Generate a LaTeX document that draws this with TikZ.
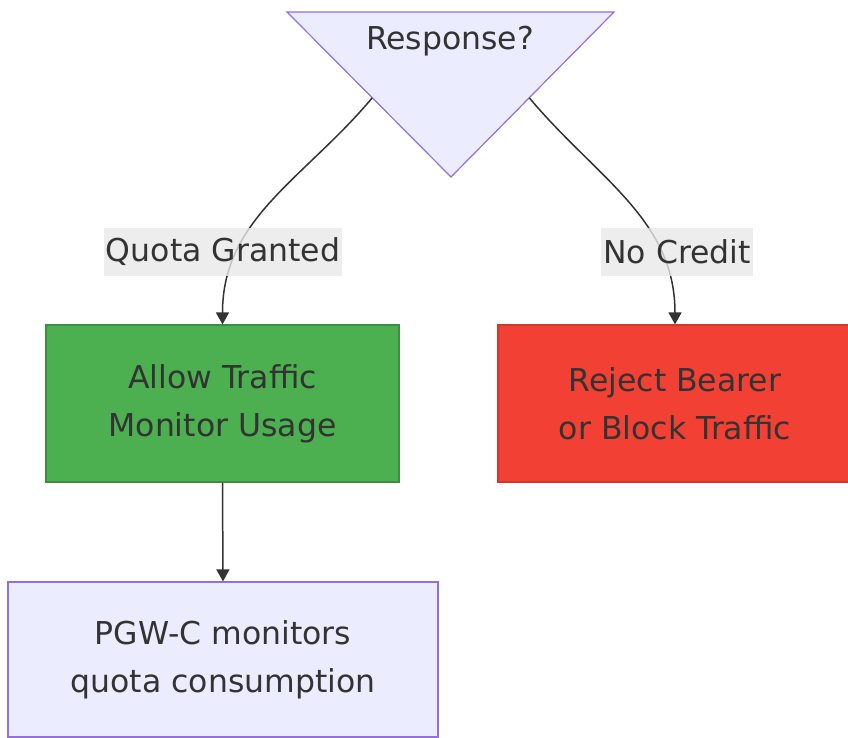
\documentclass[tikz,border=0pt]{standalone}
\usepackage{fontspec}
\setmainfont{DejaVu Sans}
\usetikzlibrary{arrows.meta,positioning,calc}

\definecolor{lav}{HTML}{ECECFF}
\definecolor{lavline}{HTML}{9370DB}
\definecolor{grn}{HTML}{4CAF50}
\definecolor{grnline}{HTML}{3E8E41}
\definecolor{rd}{HTML}{F24134}
\definecolor{rdline}{HTML}{D8352A}
\definecolor{ink}{HTML}{333333}
\definecolor{labbg}{HTML}{E8E8E8}

\begin{document}
\begin{tikzpicture}[
  x=1pt, y=1pt,
  font=\fontsize{31.5}{48}\selectfont,
  box/.style={draw, line width=1.2pt, align=center, text=ink, inner sep=0pt},
  lab/.style={fill=labbg, fill opacity=0.8, text opacity=1, text=ink, inner xsep=2pt,
    minimum height=48pt},
  arr/.style={-{Triangle[length=12pt, width=13pt]}, line width=1.5pt, draw=ink}
]
\useasboundingbox (0,0) rectangle (848,738);

% ---------- Decision ----------
\coordinate (tl) at (287,726);
\coordinate (tr) at (614,726);
\coordinate (apex) at (451,561);
\draw[fill=lav, draw=lavline, line width=1.2pt] (tl) -- (tr) -- (apex) -- cycle;
\node[text=ink] (resp) at (450,697) {Response?};

% ---------- Outcomes ----------
\node[box, fill=grn, draw=grnline, minimum width=353pt, minimum height=157pt] (allow) at (222.5,334.5)
  {Allow Traffic\\Monitor Usage};
\node[box, fill=rd, draw=rdline, minimum width=354pt, minimum height=157pt] (reject) at (675,334.5)
  {Reject Bearer\\or Block Traffic};
\node[box, fill=lav, draw=lavline, minimum width=430pt, minimum height=155pt] (monitor) at (223,78.5)
  {\raisebox{-3pt}{PGW-C monitors}\\\raisebox{-3pt}{quota consumption}};

% ---------- Branches ----------
\coordinate (lout) at ($(tl)!0.52!(apex)$);
\coordinate (rout) at ($(tr)!0.52!(apex)$);
\draw[arr] (lout) to[out=-130, in=90] (allow.north);
\draw[arr] (rout) to[out=-50, in=90] (reject.north);
\node[lab] (granted) at (223,486) {Quota Granted};
\node[lab] (nocredit) at (677,486) {No Credit};

% ---------- Follow-up ----------
\draw[arr] (allow.south) -- (monitor.north);
\end{tikzpicture}
\end{document}
